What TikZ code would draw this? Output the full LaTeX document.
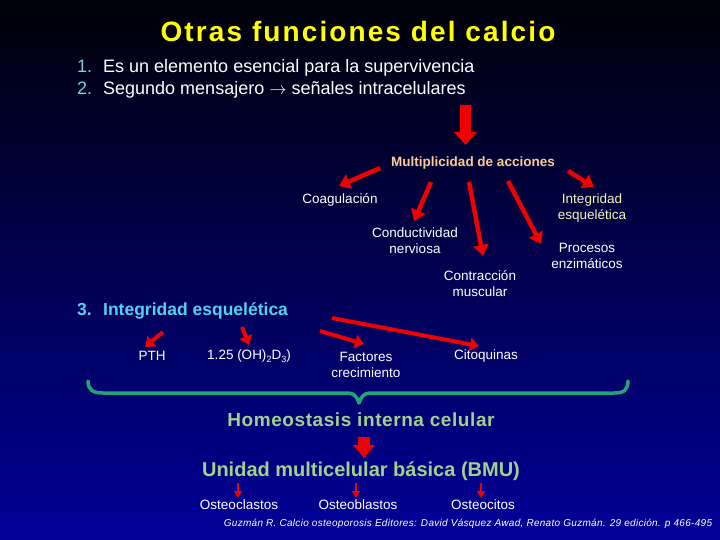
\documentclass[tikz,border=0pt]{standalone}
\usepackage{fontspec}
\setmainfont{Liberation Sans}
\usetikzlibrary{arrows.meta}
\definecolor{bgtop}{RGB}{0,0,8}
\definecolor{bgbot}{RGB}{0,0,152}
\definecolor{titley}{RGB}{255,255,0}
\definecolor{numcyan}{RGB}{120,210,220}
\definecolor{secblue}{RGB}{80,210,240}
\definecolor{peach}{RGB}{250,205,150}
\definecolor{paleyel}{RGB}{245,245,190}
\definecolor{lgreen}{RGB}{160,210,140}
\definecolor{brace}{RGB}{30,165,120}
\definecolor{arred}{RGB}{240,0,0}
\tikzset{
  lbl/.style={text=white, font=\fontsize{13.5}{16}\selectfont, align=center, inner sep=0pt},
  redarr/.style={draw=arred, line width=4.5pt, -{Triangle[width=15pt,length=11pt]}},
  redsm/.style={draw=arred, line width=4pt, -{Triangle[width=13pt,length=9pt]}},
  redtiny/.style={draw=arred, line width=2.2pt, -{Triangle[width=8pt,length=7pt]}},
  bigarr/.style={fill=arred},
}
\begin{document}
\begin{tikzpicture}[x=1pt,y=-1pt]
\shade[top color=bgtop, bottom color=bgbot] (0,0) rectangle (720,540);
\useasboundingbox (0,0) rectangle (720,540);

% title
\node[text=titley, font=\bfseries\fontsize{28}{30}\selectfont\addfontfeature{LetterSpace=7.5}, inner sep=0pt] (title) at (358,31) {Otras funciones del calcio};

% items
\node[anchor=west, inner sep=0pt, font=\fontsize{18}{20}\selectfont] (it1) at (77,68) {\makebox[26pt][l]{\textcolor{numcyan}{1.}}\textcolor{white}{Es un elemento esencial para la supervivencia}};
\node[anchor=west, inner sep=0pt, font=\fontsize{18}{20}\selectfont] (it2) at (77,90) {\makebox[26pt][l]{\textcolor{numcyan}{2.}}\textcolor{white}{Segundo mensajero $\rightarrow$ señales intracelulares}};

% big arrow 1
\fill[bigarr] (460,105) -- (471,105) -- (471,132) -- (477,132) -- (465.5,145) -- (454,132) -- (460,132) -- cycle;

\node[text=peach, font=\bfseries\fontsize{13.5}{15}\selectfont, inner sep=0pt] (mult) at (473,163) {Multiplicidad de acciones};

\node[lbl] (coag) at (340,200) {Coagulación};
\node[lbl, text=paleyel] (integ) at (592,208) {Integridad\\esquelética};
\node[lbl] (cond) at (415,241) {Conductividad\\nerviosa};
\node[lbl] (contr) at (480,284) {Contracción\\muscular};
\node[lbl] (proc) at (587,256) {Procesos\\enzimáticos};

\coordinate (m1) at (380,168); \coordinate (t1) at (339,186);
\coordinate (m2) at (431,182); \coordinate (t2) at (414,221);
\coordinate (m3) at (469,182); \coordinate (t3) at (483,256);
\coordinate (m4) at (508,181); \coordinate (t4) at (541,244);
\coordinate (m5) at (568,171); \coordinate (t5) at (594,187);
\draw[redarr] (m1) -- (t1);
\draw[redarr] (m2) -- (t2);
\draw[redarr] (m3) -- (t3);
\draw[redarr] (m4) -- (t4);
\draw[redarr] (m5) -- (t5);

% section 3
\node[anchor=west, inner sep=0pt, text=secblue, font=\bfseries\fontsize{17.5}{20}\selectfont] (sec3) at (77,311) {\makebox[26pt][l]{3.}Integridad esquelética};

\node[lbl] (pth) at (152,356) {PTH};
\node[lbl] (vitd) at (249,356) {1.25 (OH)\raisebox{-3pt}{\fontsize{9}{9}\selectfont 2}D\raisebox{-3pt}{\fontsize{9}{9}\selectfont 3})};
\node[lbl] (fact) at (366,365) {Factores\\crecimiento};
\node[lbl] (cito) at (486,356) {Citoquinas};

\coordinate (s1) at (163,332); \coordinate (u1) at (145,347);
\coordinate (s2) at (242,327); \coordinate (u2) at (249,345);
\coordinate (s3) at (320,331); \coordinate (u3) at (364,344);
\coordinate (s4) at (332,318); \coordinate (u4) at (479,346);
\draw[redsm] (s1) -- (u1);
\draw[redsm] (s2) -- (u2);
\draw[redsm] (s3) -- (u3);
\draw[redsm] (s4) -- (u4);

% brace
\draw[brace, line width=3.5pt, line cap=round, line join=round]
  (88,381) .. controls (88,390) and (93,393) .. (103,393) -- (348,393)
  .. controls (354,393) and (357,397) .. (359,403)
  .. controls (361,397) and (364,393) .. (370,393) -- (614,393)
  .. controls (624,393) and (628,390) .. (628,381);

\node[text=lgreen, font=\bfseries\fontsize{19}{22}\selectfont\addfontfeature{LetterSpace=3}, inner sep=0pt] (homeo) at (361,420) {Homeostasis interna celular};

% big arrow 2
\fill[bigarr] (358,437) -- (370,437) -- (370,445) -- (375,445) -- (364,458) -- (353,445) -- (358,445) -- cycle;

\node[text=lgreen, font=\bfseries\fontsize{20}{22}\selectfont, inner sep=0pt] (bmu) at (361,471) {Unidad multicelular básica (BMU)};

\node[lbl] (oc) at (239,505) {Osteoclastos};
\node[lbl] (ob) at (358,505) {Osteoblastos};
\node[lbl] (ot) at (483,505) {Osteocitos};

\coordinate (b1) at (238,483); \coordinate (c1) at (238,498);
\coordinate (b2) at (356,483); \coordinate (c2) at (356,498);
\coordinate (b3) at (481,483); \coordinate (c3) at (481,498);
\draw[redtiny] (b1) -- (c1);
\draw[redtiny] (b2) -- (c2);
\draw[redtiny] (b3) -- (c3);

\node[text=white, font=\itshape\fontsize{10}{12}\selectfont\addfontfeature{LetterSpace=3}, inner sep=0pt] (cite) at (468,524) {Guzmán R. Calcio osteoporosis Editores: David Vásquez Awad, Renato Guzmán. 29 edición. p 466-495};
\end{tikzpicture}
\end{document}
